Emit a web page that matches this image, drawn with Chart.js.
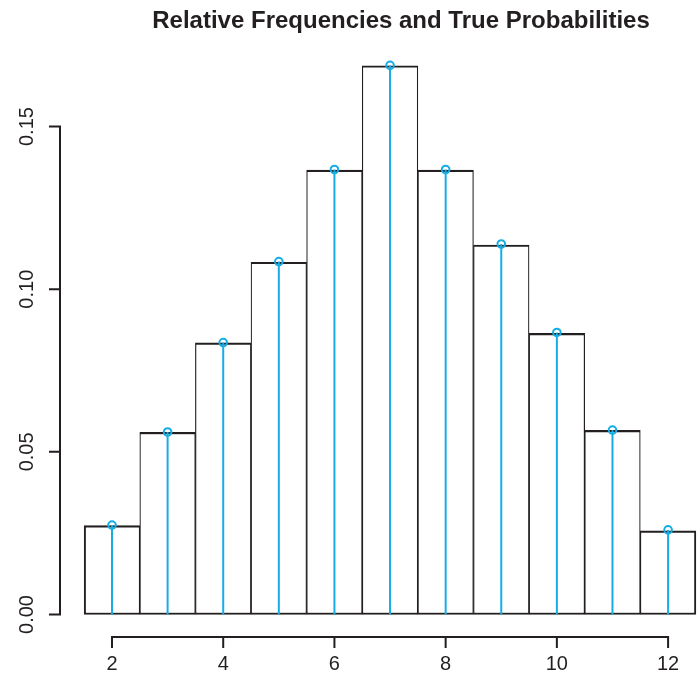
<!DOCTYPE html>
<html>
<head>
<meta charset="utf-8">
<script src="https://cdn.jsdelivr.net/npm/chart.js@4"></script>
<style>
html,body{margin:0;padding:0;background:#fff;overflow:hidden;}
canvas{display:block;}
</style>
</head>
<body>
<canvas id="c" width="697" height="679"></canvas>
<script>
// ---- data ----
const categories = [2, 3, 4, 5, 6, 7, 8, 9, 10, 11, 12];
const relFreq    = [0.0273, 0.0560, 0.0835, 0.1083, 0.1366, 0.1687, 0.1366, 0.1136, 0.0864, 0.0566, 0.0257];
const trueProb   = [0.0275, 0.0561, 0.0836, 0.1085, 0.1368, 0.1688, 0.1368, 0.1139, 0.0867, 0.0567, 0.0260];
const xTicks = [2, 4, 6, 8, 10, 12];
const xTickLabels = ['2', '4', '6', '8', '10', '12'];
const yTicks = [0, 0.05, 0.10, 0.15];
const yTickLabels = ['0.00', '0.05', '0.10', '0.15'];
const titleText = 'Relative Frequencies and True Probabilities';

const INK = '#231F20';
const BLUE = '#16ADE6';
const FONT = '"Liberation Sans", Arial, Helvetica, sans-serif';

const axesPlugin = {
  id: 'rAxes',
  afterDraw(chart) {
    const ctx = chart.ctx;
    const xs = chart.scales.x, ys = chart.scales.y;
    const ca = chart.chartArea;
    ctx.save();
    ctx.strokeStyle = INK;
    ctx.fillStyle = INK;
    ctx.lineWidth = 2;
    ctx.lineCap = 'butt';
    // bottom axis
    const ay = ca.bottom + 1;
    const x0 = xs.getPixelForValue(xTicks[0]);
    const x1 = xs.getPixelForValue(xTicks[xTicks.length - 1]);
    ctx.beginPath();
    ctx.moveTo(x0 - 1, ay); ctx.lineTo(x1 + 1, ay);
    xTicks.forEach(v => {
      const px = xs.getPixelForValue(v);
      ctx.moveTo(px, ay); ctx.lineTo(px, ay + 11);
    });
    ctx.stroke();
    ctx.font = '20px ' + FONT;
    ctx.textAlign = 'center';
    ctx.textBaseline = 'middle';
    xTicks.forEach((v, i) => {
      ctx.fillText(xTickLabels[i], xs.getPixelForValue(v), 664);
    });
    // left axis
    const ax = ca.left;
    const y0 = ys.getPixelForValue(yTicks[0]);
    const y1 = ys.getPixelForValue(yTicks[yTicks.length - 1]);
    ctx.beginPath();
    ctx.moveTo(ax, y0 + 1); ctx.lineTo(ax, y1 - 1);
    yTicks.forEach(v => {
      const py = ys.getPixelForValue(v);
      ctx.moveTo(ax, py); ctx.lineTo(ax - 11, py);
    });
    ctx.stroke();
    yTicks.forEach((v, i) => {
      const py = ys.getPixelForValue(v);
      ctx.save();
      ctx.translate(27, py);
      ctx.rotate(-Math.PI / 2);
      ctx.fillText(yTickLabels[i], 0, 0);
      ctx.restore();
    });
    // title
    ctx.font = 'bold 24px ' + FONT;
    ctx.fillText(titleText, 401, 21);
    ctx.restore();
  }
};

const last = categories.length - 1;
new Chart(document.getElementById('c'), {
  type: 'bar',
  data: {
    datasets: [
      {
        type: 'scatter',
        data: categories.map((c, i) => ({ x: c, y: trueProb[i] })),
        showLine: false,
        pointRadius: 3.8,
        pointBorderWidth: 2,
        pointBorderColor: BLUE,
        pointBackgroundColor: 'rgba(0,0,0,0)',
        order: 1
      },
      {
        type: 'bar',
        data: categories.map((c, i) => ({ x: c, y: trueProb[i] })),
        backgroundColor: BLUE,
        borderWidth: 0,
        inflateAmount: 0,
        barThickness: 2,
        grouped: false,
        order: 2
      },
      {
        type: 'bar',
        data: categories.map((c, i) => ({ x: c, y: relFreq[i] })),
        backgroundColor: '#ffffff',
        borderColor: INK,
        borderSkipped: false,
        borderWidth: (ctx) => ({ top: 2.2, bottom: 2, left: ctx.dataIndex === 0 ? 2 : 1.2, right: ctx.dataIndex === last ? 2 : 1.2 }),
        categoryPercentage: 1,
        barPercentage: 1,
        grouped: false,
        order: 3
      }
    ]
  },
  options: {
    responsive: false,
    animation: false,
    devicePixelRatio: 1,
    layout: { autoPadding: false, padding: { left: 60, right: 0, top: 44, bottom: 43 } },
    plugins: { legend: { display: false }, title: { display: false }, tooltip: { enabled: false } },
    scales: {
      x: { type: 'linear', min: 1.065, max: 12.52, offset: false, display: false },
      y: { type: 'linear', min: -0.00661, max: 0.17538, display: false }
    }
  },
  plugins: [axesPlugin]
});
</script>
</body>
</html>
